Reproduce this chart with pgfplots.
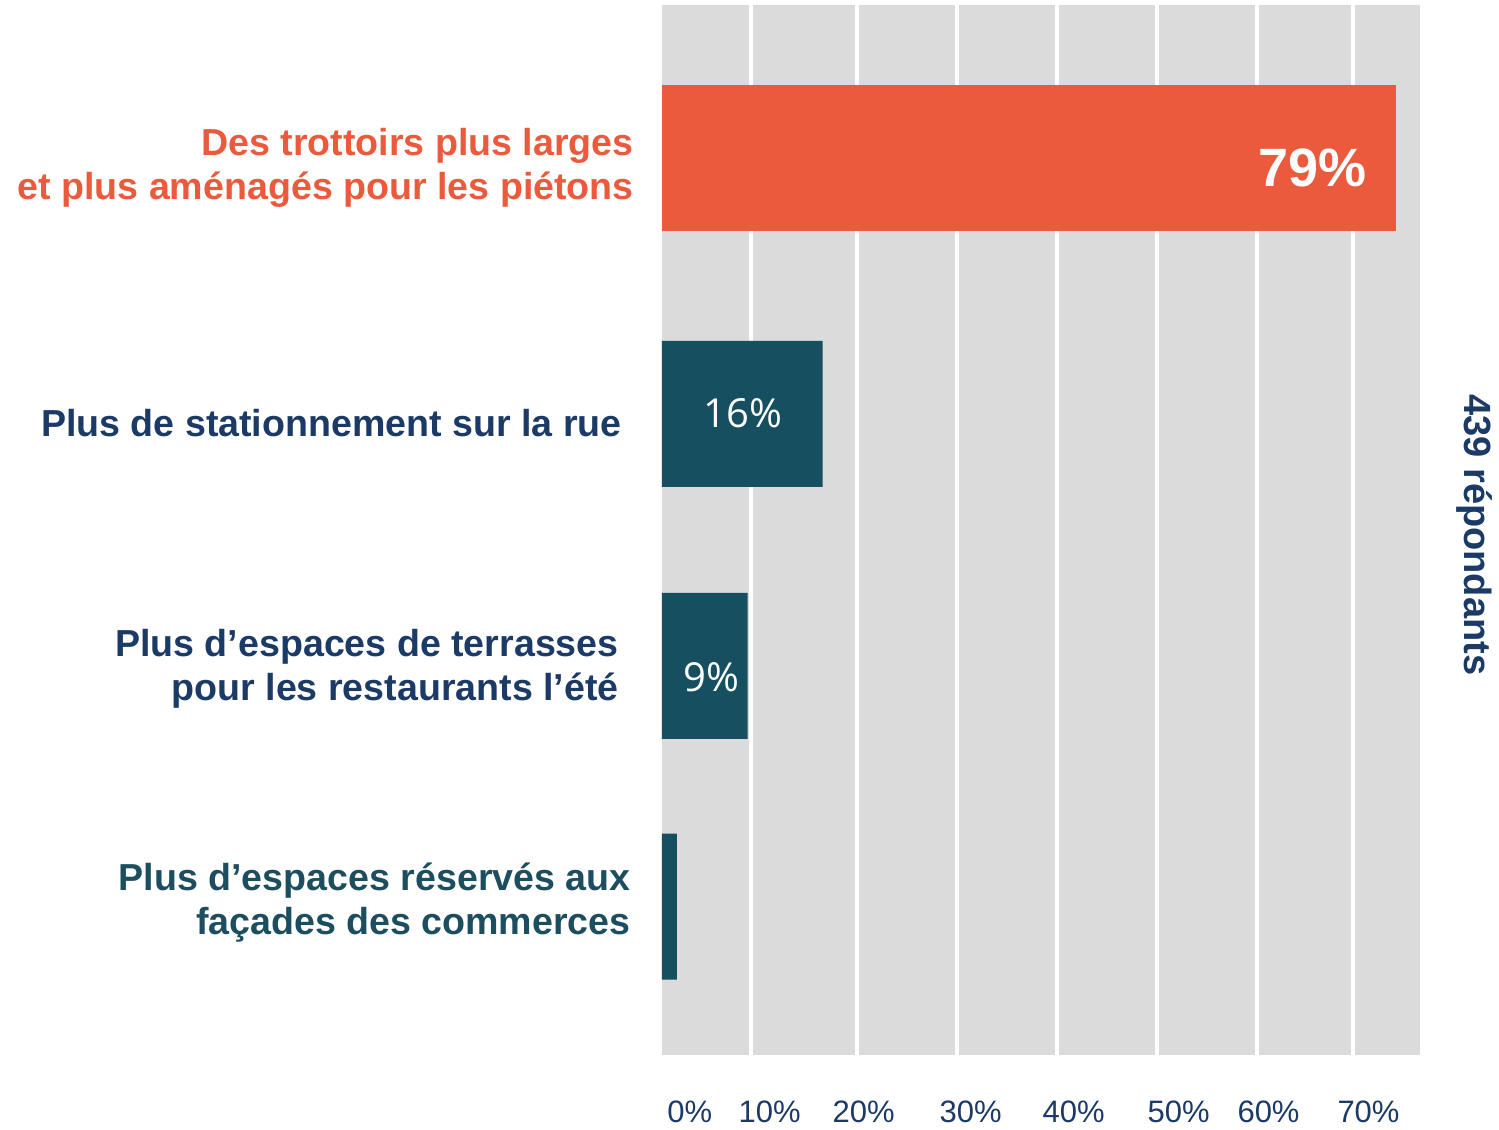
\documentclass[border=0pt]{standalone}
\usepackage{pgfplots}
\pgfplotsset{compat=1.18}
\usepackage{fontspec}
\setmainfont{Liberation Sans}
\newfontfamily\opensans{Open Sans}
\definecolor{orng}{HTML}{EB5A3C}
\definecolor{tealbar}{HTML}{164F5F}
\definecolor{navy}{HTML}{1B3A66}
\definecolor{tealtxt}{HTML}{1D4E5F}
\definecolor{grayb}{HTML}{DBDBDB}
\begin{document}
\begin{tikzpicture}
\path (0,0) rectangle (749.5pt,-564pt);
\begin{axis}[
  at={(331pt,-527.5pt)}, anchor=south west,
  scale only axis, width=379.5pt, height=525pt,
  xmin=0, xmax=75.9, ymin=5, ymax=1055, y dir=reverse,
  axis background/.style={fill=grayb},
  axis line style={draw=none},
  xbar, bar width=146,
  xtick={8.9,19.5,29.5,39.5,49.5,59.5,69.1},
  xticklabels={},
  xmajorgrids, grid style={white, line width=2pt},
  major tick length=0pt,
  ytick=\empty,
  extra x ticks={2.8,10.8,20.2,30.9,41.2,51.7,60.7,70.7},
  extra x tick labels={0\%,10\%,20\%,30\%,40\%,50\%,60\%,70\%},
  extra x tick style={grid=none},
  xticklabel style={text=navy, font=\fontsize{15.5pt}{18pt}\selectfont, anchor=north, yshift=-19.5pt},
  clip=false,
]
\addplot[fill=orng, draw=none, bar shift=0pt] coordinates {(73.4,158.5)};
\addplot[fill=tealbar, draw=none, bar shift=0pt] coordinates {(16.1,414) (8.6,666) (1.5,907)};

\node[anchor=east, align=right, text=orng, font=\fontsize{18.8pt}{22pt}\selectfont\bfseries] at (axis cs:-2.1,168) {Des trottoirs plus larges\\et plus aménagés pour les piétons};
\node[anchor=east, align=right, text=navy, font=\fontsize{18.8pt}{22pt}\selectfont\bfseries] at (axis cs:-3.3,423) {Plus de stationnement sur la rue};
\node[anchor=east, align=right, text=navy, font=\fontsize{18.8pt}{22pt}\selectfont\bfseries] at (axis cs:-3.6,669) {Plus d’espaces de terrasses\\pour les restaurants l’été};
\node[anchor=east, align=right, text=tealtxt, font=\fontsize{18.8pt}{22pt}\selectfont\bfseries] at (axis cs:-2.4,903) {Plus d’espaces réservés aux\\façades des commerces};

\node[text=white, font=\fontsize{27pt}{30pt}\selectfont\bfseries] at (axis cs:65.1,168) {79\%};
\node[text=white, font=\opensans\fontsize{20pt}{24pt}\selectfont] at (axis cs:8.1,413) {16\%};
\node[text=white, font=\opensans\fontsize{20pt}{24pt}\selectfont] at (axis cs:5.0,677) {9\%};

\node[rotate=-90, text=navy, font=\fontsize{19pt}{22pt}\selectfont\bfseries] at (axis cs:81.3,535) {439 répondants};
\end{axis}
\end{tikzpicture}
\end{document}
